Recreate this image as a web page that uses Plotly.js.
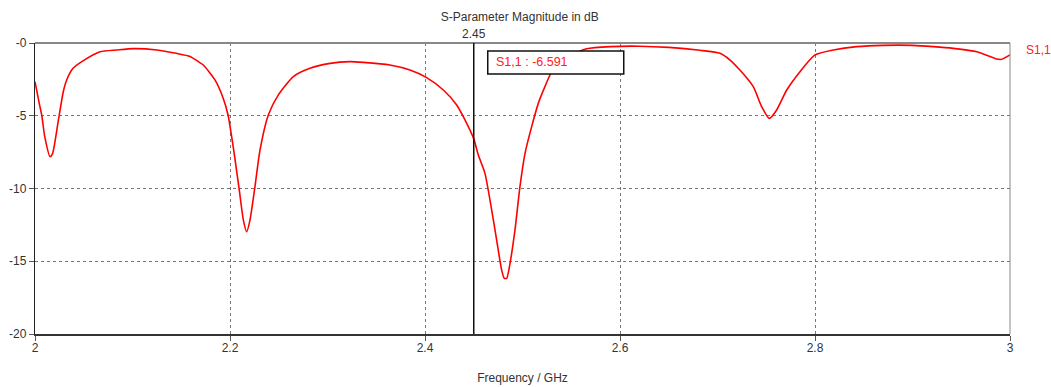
<!DOCTYPE html>
<html>
<head>
<meta charset="utf-8">
<script src="https://cdn.plot.ly/plotly-3.0.1.min.js"></script>
<style>html,body{margin:0;padding:0;background:#fff;}#chart{width:1051px;height:387px;}</style>
</head>
<body>
<div id="chart"></div>
<script>
const freq = [2.000, 2.004, 2.007, 2.010, 2.0154, 2.018, 2.024, 2.029, 2.0325, 2.039, 2.0496, 2.0667, 2.084, 2.101, 2.125, 2.145, 2.159, 2.1675, 2.1726, 2.1846, 2.193, 2.198, 2.2017, 2.205, 2.2095, 2.2137, 2.2171, 2.2205, 2.2256, 2.2308, 2.2393, 2.2496, 2.265, 2.282, 2.3026, 2.323, 2.3367, 2.364, 2.3846, 2.4017, 2.4188, 2.4325, 2.441, 2.45, 2.4547, 2.4615, 2.4684, 2.4735, 2.4786, 2.4813, 2.4838, 2.4872, 2.4923, 2.4974, 2.5026, 2.5094, 2.5162, 2.523, 2.53, 2.54, 2.55, 2.5658, 2.59, 2.62, 2.65, 2.682, 2.7026, 2.7128, 2.723, 2.7367, 2.7453, 2.7531, 2.7607, 2.771, 2.7846, 2.8, 2.8188, 2.8427, 2.87, 2.9, 2.9213, 2.9418, 2.966, 2.9864, 2.9915, 3.0];
const s11 = [-2.66, -4.03, -5.0, -6.44, -7.81, -7.6, -5.3, -3.35, -2.54, -1.74, -1.21, -0.6, -0.48, -0.39, -0.48, -0.71, -0.92, -1.28, -1.51, -2.54, -3.8, -4.95, -6.44, -7.93, -10.1, -12.17, -12.97, -12.17, -9.87, -7.35, -4.95, -3.57, -2.31, -1.74, -1.4, -1.28, -1.33, -1.51, -1.86, -2.38, -3.23, -4.26, -5.29, -6.591, -7.7, -8.96, -11.48, -13.54, -15.6, -16.17, -16.17, -15.14, -12.85, -9.87, -7.58, -5.75, -4.15, -3.0, -1.97, -1.3, -0.85, -0.4, -0.25, -0.22, -0.3, -0.5, -0.71, -1.17, -1.86, -3.0, -4.38, -5.18, -4.6, -3.23, -1.97, -0.82, -0.48, -0.25, -0.16, -0.16, -0.25, -0.37, -0.6, -1.1, -1.12, -0.82];
const xTickVals = [2, 2.2, 2.4, 2.6, 2.8, 3];
const xTickText = ["2", "2.2", "2.4", "2.6", "2.8", "3"];
const yTickVals = [0, -5, -10, -15, -20];
const yTickText = ["-0", "-5", "-10", "-15", "-20"];
const markerX = 2.45;
const markerLabel = "2.45";
const markerText = "S1,1 : -6.591";
const seriesName = "S1,1";

const FONT = "Liberation Sans, Arial, sans-serif";
const data = [{
  x: freq, y: s11, type: "scatter", mode: "lines", name: seriesName,
  line: {color: "#ff0000", width: 1.6, shape: "spline", smoothing: 0.6}, hoverinfo: "skip"
}];
const layout = {
  width: 1051, height: 387,
  margin: {l: 35, r: 41, t: 43, b: 53},
  paper_bgcolor: "#fff", plot_bgcolor: "#fff",
  showlegend: false,
  font: {family: FONT, size: 12, color: "#333"},
  title: {text: "S-Parameter Magnitude in dB", x: 0.4972, xref: "paper", xanchor: "center", y: 0.956, yref: "container", yanchor: "middle", font: {family: FONT, size: 12, color: "#333"}},
  xaxis: {
    range: [2, 3], tickvals: xTickVals, ticktext: xTickText,
    showgrid: true, gridcolor: "#777", griddash: "dot", gridwidth: 1,
    showline: true, linecolor: "#333", linewidth: 1.5,
    ticks: "outside", ticklen: 5, tickcolor: "#555", ticklabelstandoff: -3,
    zeroline: false, tickfont: {family: FONT, size: 12, color: "#333"},
    title: {text: "Frequency / GHz", standoff: 19, font: {family: FONT, size: 12, color: "#333"}}
  },
  yaxis: {
    range: [-20, 0], tickvals: yTickVals, ticktext: yTickText,
    showgrid: true, gridcolor: "#777", griddash: "dot", gridwidth: 1,
    showline: true, linecolor: "#222", linewidth: 1.2,
    ticks: "outside", ticklen: 5, tickcolor: "#555",
    zeroline: false, tickfont: {family: FONT, size: 12, color: "#333"}
  },
  shapes: [
    {type: "line", xref: "paper", yref: "paper", x0: 0, x1: 1, y0: 1, y1: 1, line: {color: "#888", width: 2}, layer: "above"},
    {type: "line", xref: "paper", yref: "paper", x0: 1, x1: 1, y0: 0, y1: 1, line: {color: "#888", width: 1}, layer: "above"},
    {type: "line", xref: "x", yref: "paper", x0: markerX, x1: markerX, y0: 0, y1: 1, line: {color: "#111", width: 1.5}, layer: "above"},
    {type: "rect", xref: "x", xsizemode: "pixel", xanchor: markerX, x0: 14, x1: 150,
     yref: "paper", ysizemode: "pixel", yanchor: 1, y0: -8, y1: -31,
     fillcolor: "#fff", line: {color: "#111", width: 1.5}, layer: "above"}
  ],
  annotations: [
    {text: markerLabel, xref: "x", x: markerX, yref: "paper", y: 1, xanchor: "center", yanchor: "bottom", yshift: 0, showarrow: false, font: {family: FONT, size: 12, color: "#333"}},
    {text: markerText, xref: "x", x: markerX, xshift: 20, xanchor: "left", yref: "paper", y: 1, yshift: -19, yanchor: "middle", showarrow: false, font: {family: FONT, size: 12.5, color: "#ff2020"}},
    {text: seriesName, xref: "paper", x: 1, xshift: 14, xanchor: "left", yref: "paper", y: 1, yshift: -7, yanchor: "middle", showarrow: false, font: {family: FONT, size: 12, color: "#ff2020"}}
  ]
};
Plotly.newPlot("chart", data, layout, {displayModeBar: false, staticPlot: true});
</script>
</body>
</html>
